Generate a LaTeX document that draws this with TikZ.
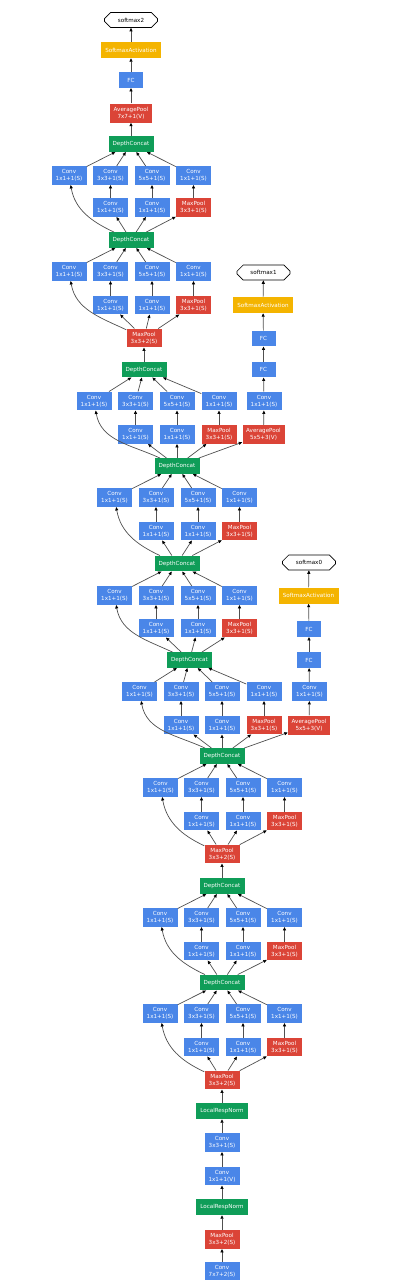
\documentclass[tikz,border=0pt]{standalone}
\usepackage{fontspec}
\setmainfont{DejaVu Sans}
\usetikzlibrary{arrows.meta,shapes.misc}
\definecolor{gblue}{RGB}{74,134,232}
\definecolor{gred}{RGB}{219,68,55}
\definecolor{ggreen}{RGB}{15,157,88}
\definecolor{gyellow}{RGB}{244,180,0}
\definecolor{edgegray}{RGB}{80,80,80}
\tikzset{
  base/.style={inner sep=0pt, align=center, text=white, font=\fontsize{5.6}{7}\selectfont},
  convbox/.style={base, fill=gblue, minimum width=35pt, minimum height=18.5pt},
  poolbox/.style={base, fill=gred, minimum width=35pt, minimum height=18.5pt},
  avgbox/.style={base, fill=gred, minimum width=42pt, minimum height=19pt},
  dcbox/.style={base, fill=ggreen, minimum width=45pt, minimum height=15.5pt},
  lrnbox/.style={base, fill=ggreen, minimum width=52pt, minimum height=16pt},
  fcbox/.style={base, fill=gblue, minimum width=24pt, minimum height=15.5pt},
  sabox/.style={base, fill=gyellow, minimum width=60pt, minimum height=16pt},
  smbox/.style={base, text=black, draw=black, fill=white, line width=0.6pt, chamfered rectangle,
    chamfered rectangle xsep=6pt, chamfered rectangle ysep=4pt, minimum width=53pt, minimum height=15pt},
  edge/.style={draw=edgegray, line width=0.7pt, -{Triangle[length=3.5pt,width=3pt,color=black]}}
}
% #1 prefix, #2 bottom node, #3-#6 x, #7 y row1, #8 y row2, #9 top node
\newcommand{\incmod}[9]{%
  \node[convbox] (#1a) at (#3,#7) {Conv\\1x1+1(S)};
  \node[convbox] (#1b) at (#4,#7) {Conv\\3x3+1(S)};
  \node[convbox] (#1c) at (#5,#7) {Conv\\5x5+1(S)};
  \node[convbox] (#1d) at (#6,#7) {Conv\\1x1+1(S)};
  \node[convbox] (#1e) at (#4,#8) {Conv\\1x1+1(S)};
  \node[convbox] (#1f) at (#5,#8) {Conv\\1x1+1(S)};
  \node[poolbox] (#1g) at (#6,#8) {MaxPool\\3x3+1(S)};
  \draw[edge] (#2) to[out=155,in=-80] (#1a);
  \draw[edge] (#2) -- (#1e);
  \draw[edge] (#2) -- (#1f);
  \draw[edge] (#2) -- (#1g);
  \draw[edge] (#1e) -- (#1b);
  \draw[edge] (#1f) -- (#1c);
  \draw[edge] (#1g) -- (#1d);
  \draw[edge] (#1a) -- (#9);
  \draw[edge] (#1b) -- (#9);
  \draw[edge] (#1c) -- (#9);
  \draw[edge] (#1d) -- (#9);
}
\begin{document}
\begin{tikzpicture}[x=1pt,y=-1pt]
\fill[white] (0,0) rectangle (400,1280);
\useasboundingbox (0,0) rectangle (400,1280);
\clip (0,0) rectangle (400,1280);
% main output
\node[smbox] (sm2) at (131,20) {softmax2};
\node[sabox] (sa2) at (131,50) {SoftmaxActivation};
\node[fcbox] (fc2) at (131,80) {FC};
\node[avgbox] (ap2) at (131,113) {AveragePool\\7x7+1(V)};
% depth concats and pools on main path
\node[dcbox] (dc5b) at (131,144) {DepthConcat};
\node[dcbox] (dc5a) at (131,240) {DepthConcat};
\node[poolbox] (pool4) at (144,338) {MaxPool\\3x3+2(S)};
\node[dcbox] (dc4e) at (144,369.5) {DepthConcat};
\node[dcbox] (dc4d) at (177,466) {DepthConcat};
\node[dcbox] (dc4c) at (177,563.5) {DepthConcat};
\node[dcbox] (dc4b) at (189.5,660) {DepthConcat};
\node[dcbox] (dc4a) at (222,756) {DepthConcat};
\node[poolbox] (pool3) at (222,854) {MaxPool\\3x3+2(S)};
\node[dcbox] (dc3b) at (222,886) {DepthConcat};
\node[dcbox] (dc3a) at (222,982.5) {DepthConcat};
\node[poolbox] (pool2) at (222,1080) {MaxPool\\3x3+2(S)};
\node[lrnbox] (lrn2) at (222,1111) {LocalRespNorm};
\node[convbox] (conv2) at (222,1142.5) {Conv\\3x3+1(S)};
\node[convbox] (conv2r) at (222,1176) {Conv\\1x1+1(V)};
\node[lrnbox] (lrn1) at (222,1207) {LocalRespNorm};
\node[poolbox] (pool1) at (222,1239.5) {MaxPool\\3x3+2(S)};
\node[convbox] (conv1) at (222,1271) {Conv\\7x7+2(S)};
% aux 1
\node[smbox] (sm1) at (263.5,272.5) {softmax1};
\node[sabox] (sa1) at (263,305) {SoftmaxActivation};
\node[fcbox] (fc1b) at (263.5,338.5) {FC};
\node[fcbox] (fc1a) at (263.5,369.5) {FC};
\node[convbox] (cv1) at (264,401) {Conv\\1x1+1(S)};
\node[avgbox] (ap1) at (263.5,434.5) {AveragePool\\5x5+3(V)};
% aux 0
\node[smbox] (sm0) at (309,562.5) {softmax0};
\node[sabox] (sa0) at (308.5,595.5) {SoftmaxActivation};
\node[fcbox] (fc0b) at (309,629) {FC};
\node[fcbox] (fc0a) at (309,660) {FC};
\node[convbox] (cv0) at (309.5,691.5) {Conv\\1x1+1(S)};
\node[avgbox] (ap0) at (309,725) {AveragePool\\5x5+3(V)};
% inception modules
\incmod{mfb}{dc5a}{69}{110.5}{152}{193.5}{175.5}{207.5}{dc5b}
\incmod{mfa}{pool4}{69}{110.5}{152}{193.5}{271.5}{305}{dc5a}
\incmod{mde}{dc4d}{94}{135.5}{177}{219}{401}{434.5}{dc4e}
\incmod{mdd}{dc4c}{114.5}{156}{198}{239.5}{497.5}{531}{dc4d}
\incmod{mdc}{dc4b}{114.5}{156}{198}{239.5}{595.5}{628}{dc4c}
\incmod{mdb}{dc4a}{139.5}{181}{222}{264}{691.5}{725}{dc4b}
\incmod{mda}{pool3}{160.5}{201.5}{243}{284.5}{787.5}{821}{dc4a}
\incmod{mcb}{dc3a}{160}{201.5}{243}{284.5}{917.5}{951}{dc3b}
\incmod{mca}{pool2}{160}{201.5}{243}{284.5}{1013.5}{1047}{dc3a}
% chains
\draw[edge] (conv1) -- (pool1);
\draw[edge] (pool1) -- (lrn1);
\draw[edge] (lrn1) -- (conv2r);
\draw[edge] (conv2r) -- (conv2);
\draw[edge] (conv2) -- (lrn2);
\draw[edge] (lrn2) -- (pool2);
\draw[edge] (dc3b) -- (pool3);
\draw[edge] (dc4e) -- (pool4);
\draw[edge] (dc5b) -- (ap2);
\draw[edge] (ap2) -- (fc2);
\draw[edge] (fc2) -- (sa2);
\draw[edge] (sa2) -- (sm2);
\draw[edge] (dc4d) -- (ap1);
\draw[edge] (ap1) -- (cv1);
\draw[edge] (cv1) -- (fc1a);
\draw[edge] (fc1a) -- (fc1b);
\draw[edge] (fc1b) -- (sa1);
\draw[edge] (sa1) -- (sm1);
\draw[edge] (dc4a) -- (ap0);
\draw[edge] (ap0) -- (cv0);
\draw[edge] (cv0) -- (fc0a);
\draw[edge] (fc0a) -- (fc0b);
\draw[edge] (fc0b) -- (sa0);
\draw[edge] (sa0) -- (sm0);
\end{tikzpicture}
\end{document}
